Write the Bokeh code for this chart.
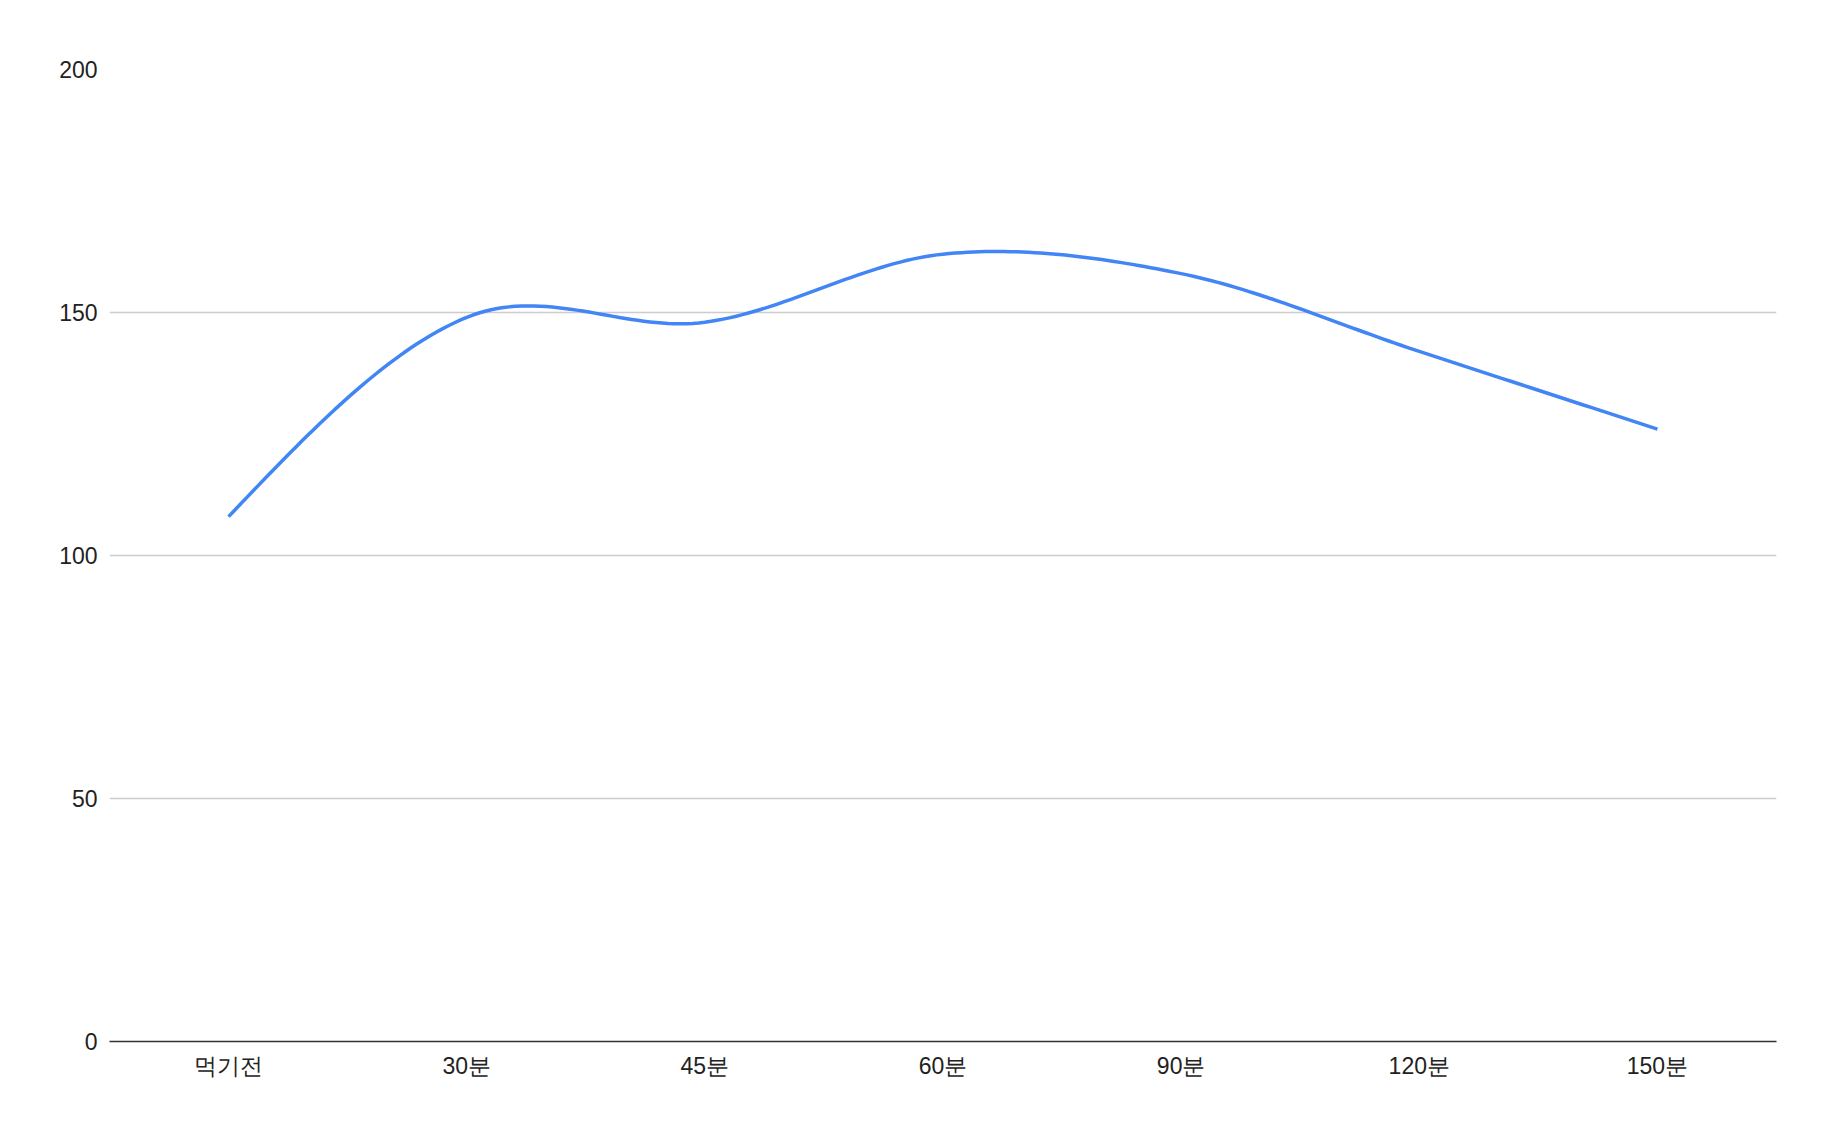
import numpy as np
from bokeh.plotting import figure
from bokeh.models import Range1d, FixedTicker, ColumnDataSource
from bokeh.embed import file_html
from bokeh.resources import INLINE

categories = ["먹기전", "30분", "45분", "60분", "90분", "120분", "150분"]
values = [108, 149, 148, 162, 158, 142, 126]
y_ticks = [0, 50, 100, 150, 200]

# smooth curve through the data points (cubic Hermite, Catmull-Rom tangents,
# natural ends)
ys_pts = np.array(values, dtype=float)
n = len(values)
xs_pts = np.arange(n, dtype=float)
tangents = np.zeros(n)
for i in range(1, n - 1):
    tangents[i] = (ys_pts[i + 1] - ys_pts[i - 1]) / 2.0
tangents[0] = 1.5 * (ys_pts[1] - ys_pts[0]) - 0.5 * tangents[1]
tangents[-1] = 1.5 * (ys_pts[-1] - ys_pts[-2]) - 0.5 * tangents[-2]
cx, cy = [], []
t = np.linspace(0, 1, 40)
for i in range(n - 1):
    h00 = 2 * t**3 - 3 * t**2 + 1
    h10 = t**3 - 2 * t**2 + t
    h01 = -2 * t**3 + 3 * t**2
    h11 = t**3 - t**2
    yy = h00 * ys_pts[i] + h10 * tangents[i] + h01 * ys_pts[i + 1] + h11 * tangents[i + 1]
    xx = xs_pts[i] + t
    if i > 0:
        xx, yy = xx[1:], yy[1:]
    cx.extend(xx.tolist())
    cy.extend(yy.tolist())

src = ColumnDataSource(dict(x=cx, y=cy))

p = figure(width=1818, height=1118, output_backend="svg", toolbar_location=None,
           x_range=Range1d(-0.5, n - 0.5), y_range=Range1d(0, 200),
           min_border_left=109, min_border_right=42, min_border_top=69, min_border_bottom=77)
p.outline_line_color = None
p.background_fill_color = "white"
p.border_fill_color = "white"

p.line("x", "y", source=src, line_color="#4285F4", line_width=3.5, line_join="round")

# axes
p.xaxis.ticker = FixedTicker(ticks=list(range(n)))
p.xaxis.major_label_overrides = {i: c for i, c in enumerate(categories)}
p.xaxis.axis_line_color = "#333333"
p.xaxis.axis_line_width = 1.5
p.xaxis.major_tick_line_color = None
p.xaxis.minor_tick_line_color = None
p.xaxis.major_label_text_font = "Liberation Sans"
p.xaxis.major_label_text_font_size = "23px"
p.xaxis.major_label_text_color = "#222222"
p.xaxis.major_label_standoff = 5

p.yaxis.ticker = FixedTicker(ticks=y_ticks)
p.yaxis.axis_line_color = None
p.yaxis.major_tick_line_color = None
p.yaxis.minor_tick_line_color = None
p.yaxis.major_label_text_font = "Liberation Sans"
p.yaxis.major_label_text_font_size = "23px"
p.yaxis.major_label_text_color = "#222222"
p.yaxis.major_label_standoff = 6

p.xgrid.grid_line_color = None
p.ygrid.ticker = FixedTicker(ticks=[50, 100, 150, 200])
p.ygrid.grid_line_color = "#cccccc"
p.ygrid.grid_line_width = 1.3

open("out.html", "w").write(file_html(p, INLINE))
